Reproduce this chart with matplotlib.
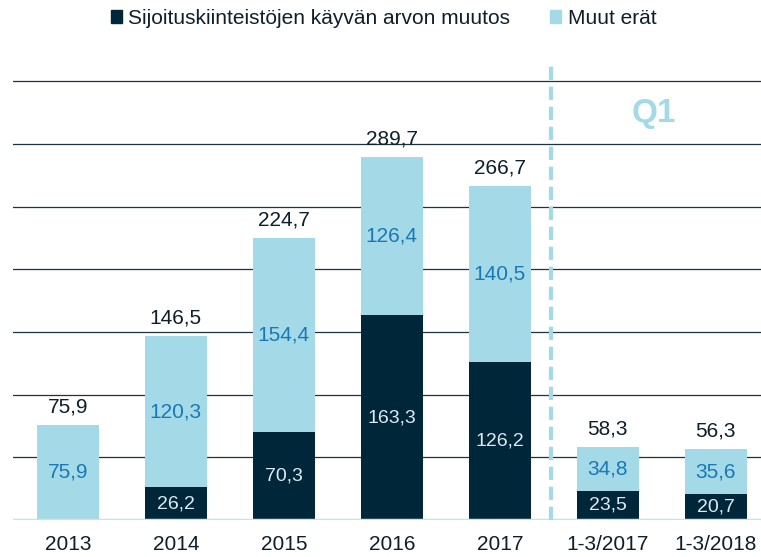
import matplotlib.pyplot as plt
from matplotlib.patches import Patch

plt.rcParams['font.family'] = ['Liberation Sans', 'DejaVu Sans']

# data
categories = ['2013', '2014', '2015', '2016', '2017', '1-3/2017', '1-3/2018']
fair_value = [0, 26.2, 70.3, 163.3, 126.2, 23.5, 20.7]
other_items = [75.9, 120.3, 154.4, 126.4, 140.5, 34.8, 35.6]
totals = [75.9, 146.5, 224.7, 289.7, 266.7, 58.3, 56.3]

dark = '#00263a'
light = '#a4dae8'
blue_txt = '#1a78b4'

def fmt(v):
    return ('%.1f' % v).replace('.', ',')

fig = plt.figure(figsize=(7.61, 5.57), dpi=100)
ax = fig.add_axes([0.017, 0.0664, 0.983, 0.8256])

x = list(range(len(categories)))
w = 0.575

# gridlines
for g in range(50, 351, 50):
    ax.axhline(g, color='#1c3344', lw=0.9, zorder=0)

ax.bar(x, fair_value, w, color=dark, zorder=2)
ax.bar(x, other_items, w, bottom=fair_value, color=light, zorder=2)
ax.axhline(0, color='#bfe5f1', lw=2.5, zorder=3)

for i in x:
    if fair_value[i] > 0:
        ax.text(i, fair_value[i] / 2, fmt(fair_value[i]), ha='center', va='center',
                color='#dcebf2', fontsize=14, zorder=4)
    ax.text(i, fair_value[i] + other_items[i] / 2, fmt(other_items[i]), ha='center',
            va='center', color=blue_txt, fontsize=15, zorder=4)
    ax.text(i, totals[i] + 14.5, fmt(totals[i]), ha='center', va='center',
            color='#0e1e2a', fontsize=15, zorder=4)

# Q1 divider
ax.axvline(4.47, color=light, lw=3, ls=(0, (3.2, 1.6)), zorder=3)
ax.text(5.43, 324.5, 'Q1', ha='center', va='center', color=light,
        fontsize=24, fontweight='bold')

ax.set_xlim(-0.51, 6.42)
ax.set_ylim(0, 367)
ax.set_xticks(x)
ax.set_xticklabels(categories, fontsize=15, color='#0e1e2a')
ax.tick_params(axis='x', length=0, pad=11)
ax.set_yticks([])
for s in ax.spines.values():
    s.set_visible(False)

handles = [Patch(color=dark), Patch(color=light)]
fig.legend(handles, ['Sijoituskiinteistöjen käyvän arvon muutos', 'Muut erät'],
           loc='center', bbox_to_anchor=(0.504, 0.967), ncol=2, frameon=False,
           fontsize=15, handlelength=0.55, handleheight=0.55, handletextpad=0.3,
           columnspacing=1.9, labelcolor='#0e1e2a')

fig.savefig('out.png', dpi=100)
